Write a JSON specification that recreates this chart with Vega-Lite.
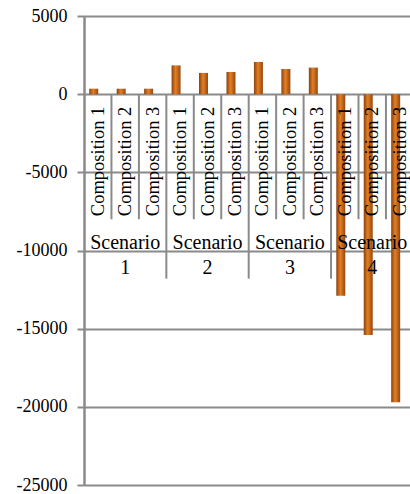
{
  "$schema": "https://vega.github.io/schema/vega-lite/v6.json",
  "autosize": {"type": "none"},
  "padding": {"left": 84, "top": 16, "right": 0, "bottom": 9},
  "width": 326,
  "height": 469,
  "background": "white",
  "config": {"view": {"stroke": null}},
  "data": {
    "values": [
      {"bar": "S1C1", "scenario": "1", "composition": "Composition 1", "value": 350},
      {"bar": "S1C2", "scenario": "1", "composition": "Composition 2", "value": 350},
      {"bar": "S1C3", "scenario": "1", "composition": "Composition 3", "value": 350},
      {"bar": "S2C1", "scenario": "2", "composition": "Composition 1", "value": 1840},
      {"bar": "S2C2", "scenario": "2", "composition": "Composition 2", "value": 1360},
      {"bar": "S2C3", "scenario": "2", "composition": "Composition 3", "value": 1420},
      {"bar": "S3C1", "scenario": "3", "composition": "Composition 1", "value": 2060},
      {"bar": "S3C2", "scenario": "3", "composition": "Composition 2", "value": 1610},
      {"bar": "S3C3", "scenario": "3", "composition": "Composition 3", "value": 1700},
      {"bar": "S4C1", "scenario": "4", "composition": "Composition 1", "value": -12900},
      {"bar": "S4C2", "scenario": "4", "composition": "Composition 2", "value": -15400},
      {"bar": "S4C3", "scenario": "4", "composition": "Composition 3", "value": -19700}
    ]
  },
  "encoding": {
    "x": {
      "field": "bar",
      "type": "nominal",
      "sort": null,
      "scale": {"range": [0, 329.4], "paddingInner": 0, "paddingOuter": 0},
      "axis": null
    }
  },
  "layer": [
    {
      "mark": {
        "type": "bar",
        "width": 9,
        "xOffset": -4,
        "fill": {
          "gradient": "linear",
          "x1": 0, "y1": 0, "x2": 1, "y2": 0,
          "stops": [
            {"offset": 0, "color": "#8a420f"},
            {"offset": 0.45, "color": "#e47f24"},
            {"offset": 1, "color": "#95470f"}
          ]
        }
      },
      "encoding": {
        "y": {
          "field": "value",
          "type": "quantitative",
          "scale": {"domain": [-25000, 5000], "nice": false, "zero": false},
          "axis": {
            "title": null,
            "values": [-25000, -20000, -15000, -10000, -5000, 0, 5000],
            "labelExpr": "'' + datum.value",
            "labelFont": "'Liberation Serif'",
            "labelFontSize": 18,
            "labelColor": "#000000",
            "labelPadding": 10,
            "tickSize": 7,
            "tickColor": "#8a8a8a",
            "tickWidth": 2,
            "domainColor": "#8a8a8a",
            "domainWidth": 2.5,
            "grid": true,
            "gridColor": "#8a8a8a",
            "gridWidth": 2
          }
        }
      }
    },
    {
      "transform": [{"filter": "datum.composition != 'Composition 1'"}],
      "mark": {"type": "rule", "color": "#8a8a8a", "strokeWidth": 2},
      "encoding": {
        "x": {"field": "bar", "type": "nominal", "sort": null, "bandPosition": 0},
        "y": {"datum": 0},
        "y2": {"datum": -8000}
      }
    },
    {
      "transform": [{"filter": "datum.composition == 'Composition 1' && datum.scenario != '1'"}],
      "mark": {"type": "rule", "color": "#8a8a8a", "strokeWidth": 2},
      "encoding": {
        "x": {"field": "bar", "type": "nominal", "sort": null, "bandPosition": 0},
        "y": {"datum": 0},
        "y2": {"datum": -11800}
      }
    },
    {
      "mark": {
        "type": "text",
        "angle": 270,
        "align": "right",
        "baseline": "middle",
        "font": "'Liberation Serif'",
        "fontSize": 18.5,
        "color": "#000000"
      },
      "encoding": {
        "y": {"datum": -800},
        "text": {"field": "composition"}
      }
    },
    {
      "transform": [{"filter": "datum.composition == 'Composition 2'"}],
      "mark": {
        "type": "text",
        "align": "center",
        "baseline": "middle",
        "font": "'Liberation Serif'",
        "fontSize": 20,
        "color": "#000000"
      },
      "encoding": {
        "y": {"datum": -9550},
        "text": {"value": "Scenario"}
      }
    },
    {
      "transform": [{"filter": "datum.composition == 'Composition 2'"}],
      "mark": {
        "type": "text",
        "align": "center",
        "baseline": "middle",
        "font": "'Liberation Serif'",
        "fontSize": 20,
        "color": "#000000"
      },
      "encoding": {
        "y": {"datum": -11100},
        "text": {"field": "scenario"}
      }
    }
  ]
}
